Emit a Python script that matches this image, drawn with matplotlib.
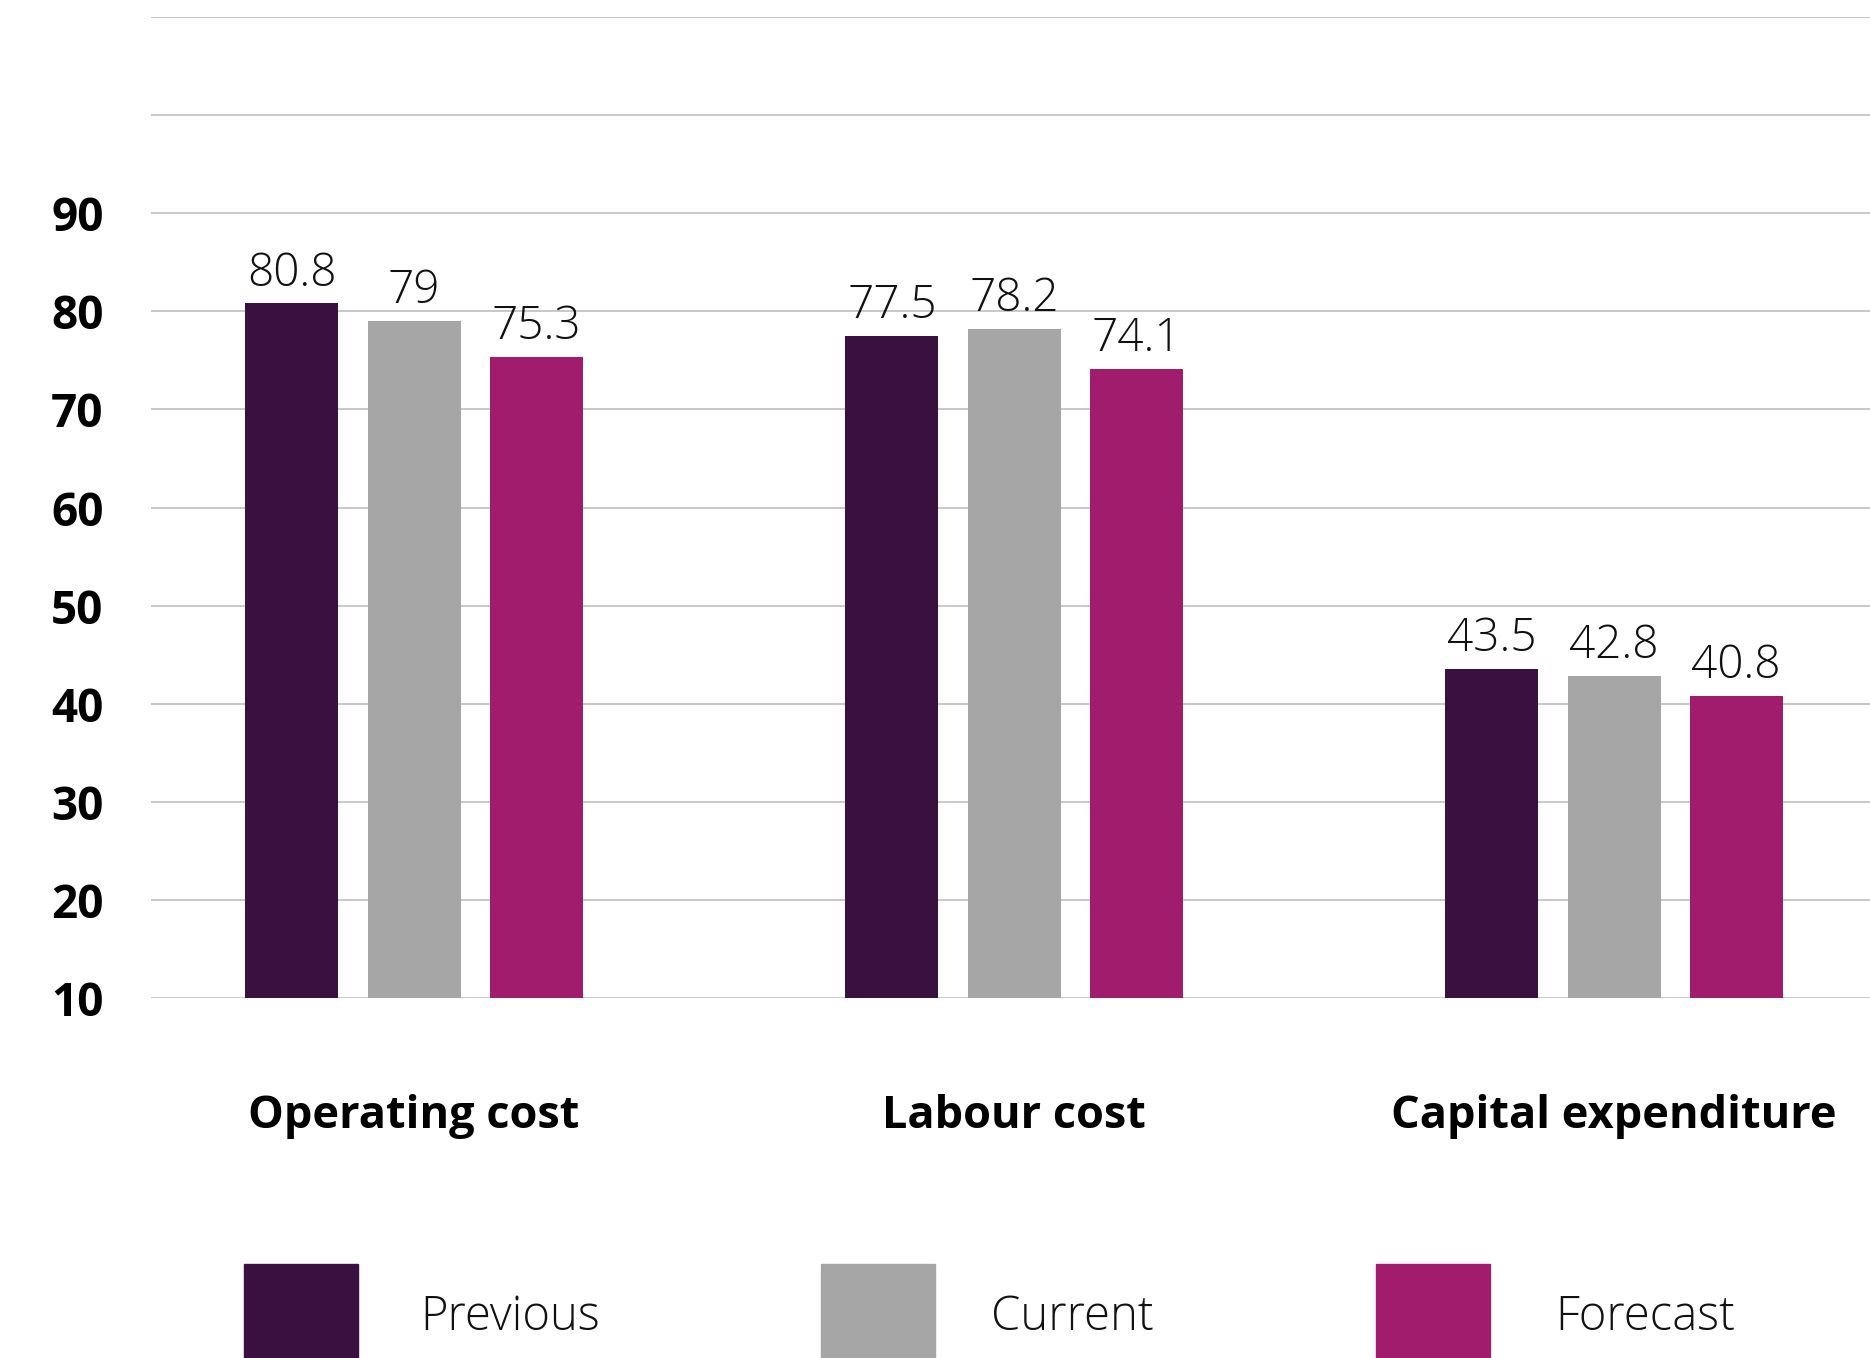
import matplotlib.pyplot as plt
from matplotlib.patches import Rectangle
import numpy as np

categories = ['Operating cost', 'Labour cost', 'Capital expenditure']
series = ['Previous', 'Current', 'Forecast']
previous = [80.8, 77.5, 43.5]
current = [79, 78.2, 42.8]
forecast = [75.3, 74.1, 40.8]
colors = ['#3a1040', '#a6a6a6', '#a11c6c']
yticks = [10, 20, 30, 40, 50, 60, 70, 80, 90, 100, 110]
ytick_labels = ['10', '20', '30', '40', '50', '60', '70', '80', '90', '', '']

plt.rcParams['font.family'] = ['Open Sans', 'DejaVu Sans']


def main():
    fig = plt.figure(figsize=(18.7, 13.58), dpi=100)
    ax = fig.add_axes([0.0807, 0.265, 0.9193, 0.7225])

    x = np.arange(len(categories))
    width = 0.155
    step = 0.2035
    for i, vals in enumerate([previous, current, forecast]):
        bars = ax.bar(x + (i - 1) * step, vals, width, color=colors[i],
                      zorder=3, label=series[i])
        for b, v in zip(bars, vals):
            ax.annotate(f'{v:g}', (b.get_x() + b.get_width() / 2, v),
                        xytext=(0, 5), textcoords='offset points',
                        ha='center', va='bottom', fontsize=33,
                        fontweight='light', color='#111111')

    ax.set_ylim(10, 110)
    ax.set_xlim(-0.4385, 2.4265)
    ax.set_yticks(yticks)
    ax.set_yticklabels(ytick_labels, fontsize=33, fontweight='bold')
    ax.set_xticks(x)
    ax.set_xticklabels(categories, fontsize=32.5, fontweight='bold')
    ax.tick_params(axis='y', length=0, pad=34)
    ax.tick_params(axis='x', length=0, pad=69)
    ax.grid(axis='y', color='#c8c8c8', linewidth=1.4, zorder=0)
    for s in ax.spines.values():
        s.set_visible(False)

    # legend drawn by hand: big swatches running off the bottom edge
    W, H = 1870, 1358
    swatch_x = [244, 821, 1376]
    text_x = [420, 991, 1555]
    for sx, tx, c, name in zip(swatch_x, text_x, colors, series):
        fig.patches.append(Rectangle((sx / W, 0), 114 / W, 94 / H,
                                     transform=fig.transFigure,
                                     color=c, clip_on=False))
        fig.text(tx / W, 40 / H, name, fontsize=34, fontweight='light',
                 va='center', ha='left', color='#111111')

    fig.savefig('out.png', dpi=100)


if __name__ == "__main__":
    main()
